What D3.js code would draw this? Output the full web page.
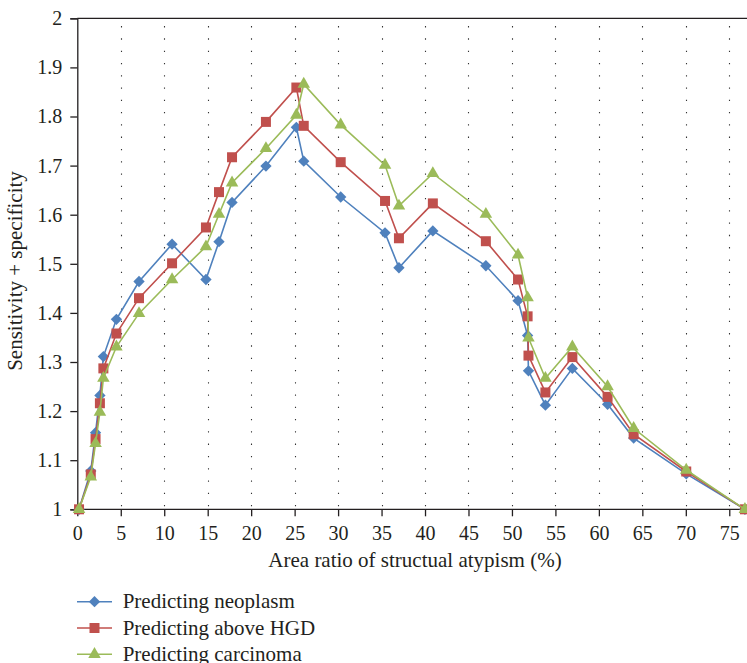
<!DOCTYPE html>
<html>
<head>
<meta charset="utf-8">
<script src="https://cdn.jsdelivr.net/npm/d3@7"></script>
<style>
    body { margin: 0; background: #fff; }
    #chart text { font-family: "Liberation Serif", "DejaVu Serif", serif; fill: #231f20; }
</style>
</head>
<body>
<div id="chart"></div>
<script>
    "use strict";

    // area ratio (%) at each cut-off, shared by the three series
    const areaRatio = [0.2, 1.55, 2.1, 2.6, 3.0, 4.5, 7.1, 10.9, 14.8, 16.3, 17.8, 21.7, 25.2, 26.05, 30.3,
        35.4, 37.0, 40.9, 47.0, 50.7, 51.8, 51.9, 53.85, 56.95, 61.0, 64.0, 70.05, 76.8];

    const neoplasm = [1.0, 1.078, 1.156, 1.232, 1.311, 1.387, 1.464, 1.54, 1.468, 1.545, 1.625, 1.699, 1.778, 1.709,
        1.636, 1.563, 1.492, 1.567, 1.496, 1.425, 1.354, 1.282, 1.212, 1.287, 1.214, 1.145, 1.072, 1.0];
    const aboveHGD = [1.0, 1.071, 1.143, 1.216, 1.287, 1.358, 1.43, 1.501, 1.574, 1.646, 1.717, 1.789, 1.859, 1.781,
        1.707, 1.628, 1.552, 1.623, 1.546, 1.468, 1.393, 1.313, 1.238, 1.31, 1.229, 1.153, 1.077, 1.0];
    const carcinoma = [1.0, 1.066, 1.134, 1.198, 1.267, 1.331, 1.399, 1.468, 1.535, 1.601, 1.665, 1.735, 1.803, 1.866,
        1.783, 1.701, 1.618, 1.684, 1.601, 1.518, 1.431, 1.349, 1.267, 1.331, 1.25, 1.165, 1.08, 1.0];

    const seriesNames = ["Predicting neoplasm", "Predicting above HGD", "Predicting carcinoma"];
    const xTicks = [0, 5, 10, 15, 20, 25, 30, 35, 40, 45, 50, 55, 60, 65, 70, 75];
    const yTicks = [1, 1.1, 1.2, 1.3, 1.4, 1.5, 1.6, 1.7, 1.8, 1.9, 2];

    (function () {
        let width = 747, height = 663;
        let plotLeft = 77.3, plotTop = 18.3, plotBottom = 509.3;

        let svg = d3.select("#chart").append("svg").attr("width", width).attr("height", height);

        let x = d3.scaleLinear().domain([0, 78]).range([plotLeft, plotLeft + 78 * 8.693]);
        let y = d3.scaleLinear().domain([1, 2]).range([plotBottom, plotTop]);

        // vertical dotted gridlines
        svg.append("g")
            .selectAll("line")
            .data(xTicks.slice(1))
            .enter()
            .append("line")
            .attr("x1", (d) => Math.round(x(d)) + 0.5)
            .attr("x2", (d) => Math.round(x(d)) + 0.5)
            .attr("y1", plotBottom - 3)
            .attr("y2", plotTop)
            .attr("stroke", "#333")
            .attr("stroke-width", 1.1)
            .attr("stroke-dasharray", "1.3,10.98");

        // top border at y = 2
        svg.append("line")
            .attr("x1", plotLeft).attr("x2", width)
            .attr("y1", y(2)).attr("y2", y(2))
            .attr("stroke", "#231f20").attr("stroke-width", 1.3);

        let yAxis = svg.append("g")
            .attr("transform", `translate(${plotLeft},0)`)
            .call(d3.axisLeft(y).tickValues(yTicks).tickFormat(d3.format("")).tickSize(7).tickPadding(8));

        let xAxis = svg.append("g")
            .attr("transform", `translate(0,${plotBottom})`)
            .call(d3.axisBottom(x).tickValues(xTicks).tickSize(7).tickPadding(10));

        [yAxis, xAxis].forEach((g) => {
            g.select(".domain").attr("stroke", "#231f20").attr("stroke-width", 1.3);
            g.selectAll(".tick line").attr("stroke", "#231f20").attr("stroke-width", 1.3);
            g.selectAll("text").attr("font-size", 20).attr("fill", "#231f20");
        });
        xAxis.select(".domain").attr("d", `M${plotLeft},0H${width}`);

        svg.append("text")
            .attr("x", 415)
            .attr("y", 566.5)
            .attr("text-anchor", "middle")
            .attr("font-size", 21)
            .text("Area ratio of structual atypism (%)");

        svg.append("text")
            .attr("transform", "translate(21.5,271) rotate(-90)")
            .attr("text-anchor", "middle")
            .attr("font-size", 21)
            .text("Sensitivity + specificity");

        const colors = ["#4f81bd", "#c0504d", "#9bbb59"];
        const symbols = [d3.symbol().type(d3.symbolSquare).size(64), d3.symbol().type(d3.symbolSquare).size(100),
            d3.symbol().type(d3.symbolTriangle).size(68)];
        const rotate = [45, 0, 0];

        let allSeries = [neoplasm, aboveHGD, carcinoma].map((vals, i) => ({
            name: seriesNames[i],
            points: vals.map((v, j) => ({ x: areaRatio[j], y: v })),
        }));

        let line = d3.line().x((d) => x(d.x)).y((d) => y(d.y));

        allSeries.forEach((s, i) => {
            let g = svg.append("g");
            g.append("path")
                .attr("d", line(s.points))
                .attr("fill", "none")
                .attr("stroke", colors[i])
                .attr("stroke-width", 1.6);
            g.selectAll("path.mark")
                .data(s.points)
                .enter()
                .append("path")
                .attr("class", "mark")
                .attr("d", symbols[i])
                .attr("transform", (d) => `translate(${x(d.x)},${y(d.y)}) rotate(${rotate[i]})`)
                .attr("fill", colors[i]);
        });

        // legend
        let legend = svg.append("g").attr("transform", "translate(77,0)");
        seriesNames.forEach((name, i) => {
            let ly = 601.7 + i * 26.3;
            legend.append("line")
                .attr("x1", 0).attr("x2", 35)
                .attr("y1", ly).attr("y2", ly)
                .attr("stroke", colors[i]).attr("stroke-width", 1.6);
            legend.append("path")
                .attr("d", symbols[i])
                .attr("transform", `translate(17.5,${ly}) rotate(${rotate[i]})`)
                .attr("fill", colors[i]);
            legend.append("text")
                .attr("x", 45.7)
                .attr("y", ly + 6.6)
                .attr("font-size", 21)
                .text(name);
        });
    })();
</script>
</body>
</html>
